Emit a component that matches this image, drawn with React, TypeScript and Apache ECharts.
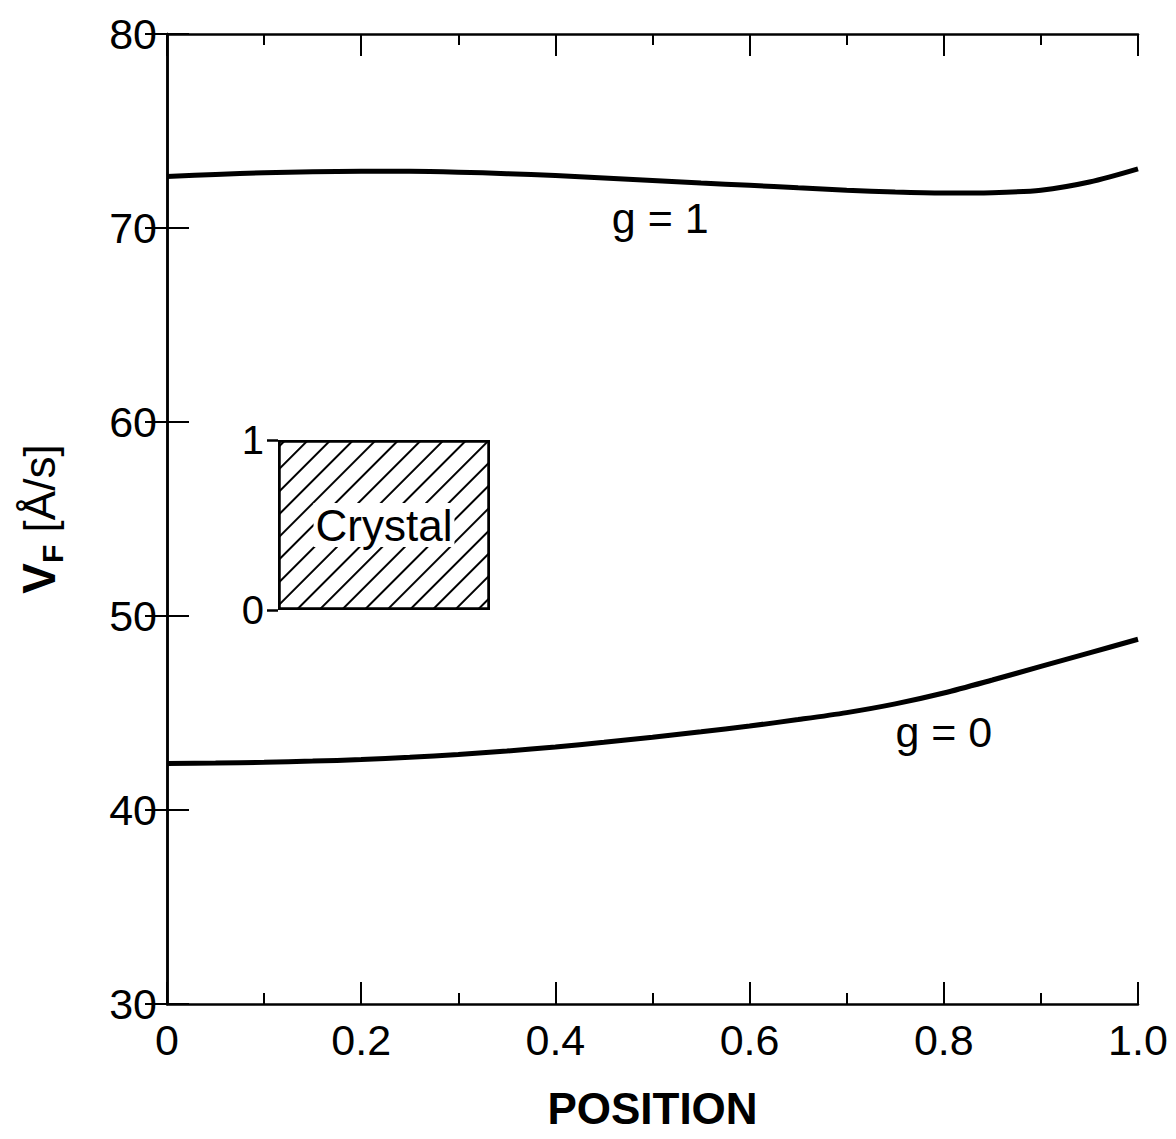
import React, { useEffect, useRef } from "react";
import * as echarts from "echarts";

const positions = [0, 0.05, 0.1, 0.15, 0.2, 0.25, 0.3, 0.35, 0.4, 0.45, 0.5, 0.55, 0.6, 0.65, 0.7, 0.75, 0.8, 0.85, 0.9, 0.95, 1.0];
const g1Values = [72.65, 72.76, 72.85, 72.9, 72.92, 72.92, 72.88, 72.8, 72.7, 72.58, 72.45, 72.32, 72.2, 72.07, 71.95, 71.85, 71.8, 71.82, 71.95, 72.37, 73.05];
const g0Values = [42.4, 42.42, 42.46, 42.52, 42.6, 42.72, 42.86, 43.04, 43.25, 43.49, 43.75, 44.03, 44.33, 44.66, 45.02, 45.47, 46.03, 46.7, 47.4, 48.1, 48.8];
const xTickLabels: Record<string, string> = { "0": "0", "0.2": "0.2", "0.4": "0.4", "0.6": "0.6", "0.8": "0.8", "1": "1.0" };
const curveLabels = [
  { text: "g = 1", coord: [0.508, 70.5] },
  { text: "g = 0", coord: [0.8, 44.0] },
];
const insetCategories = ["Crystal"];
const insetValues = [1];

const FONT = "'Liberation Sans', Arial, Helvetica, sans-serif";

export default function App() {
  const ref = useRef<HTMLDivElement>(null);
  useEffect(() => {
    document.body.style.margin = "0";
    const chart = echarts.init(ref.current!, undefined, { renderer: "svg" });
    const tickStyle = { color: "#000", width: 2 };
    const mainX = (pos: "bottom" | "top", showLabel: boolean) => ({
      type: "value",
      gridIndex: 0,
      position: pos,
      min: 0,
      max: 1,
      interval: 0.2,
      axisLine: { show: true, lineStyle: { color: "#000", width: 2.5 } },
      axisTick: { show: true, inside: true, length: 22, lineStyle: tickStyle },
      minorTick: { show: true, splitNumber: 2, length: 11, lineStyle: tickStyle },
      splitLine: { show: false },
      axisLabel: {
        show: showLabel,
        fontSize: 43,
        color: "#000",
        fontFamily: FONT,
        margin: 14,
        formatter: (v: number) => xTickLabels[String(Math.round(v * 10) / 10)] ?? String(v),
      },
      name: showLabel ? "POSITION" : "",
      nameLocation: "middle",
      nameGap: 82,
      nameTextStyle: { fontSize: 44, fontWeight: "bold", color: "#000", fontFamily: FONT },
    });
    const mainY = (pos: "left" | "right", showLabel: boolean) => ({
      type: "value",
      gridIndex: 0,
      position: pos,
      min: 30,
      max: 80,
      interval: 10,
      axisLine: { show: true, lineStyle: { color: "#000", width: 2.5 } },
      axisTick: { show: true, inside: true, length: 22, lineStyle: tickStyle },
      splitLine: { show: false },
      axisLabel: { show: showLabel, fontSize: 43, color: "#000", fontFamily: FONT, margin: 10 },
      name: showLabel ? "{v|V}{f|F}{u| [Å/s]}" : "",
      nameLocation: "middle",
      nameRotate: 90,
      nameGap: 100,
      nameTextStyle: {
        color: "#000",
        fontFamily: FONT,
        rich: {
          v: { fontSize: 46, fontWeight: "bold", fontFamily: FONT, color: "#000", lineHeight: 56, verticalAlign: "middle" },
          f: { fontSize: 30, fontWeight: "bold", fontFamily: FONT, color: "#000", lineHeight: 56, verticalAlign: "bottom" },
          u: { fontSize: 44, fontFamily: FONT, color: "#000", lineHeight: 56, verticalAlign: "middle" },
        },
      },
    });
    chart.setOption({
      animation: false,
      backgroundColor: "#fff",
      grid: [
        { left: 167, top: 34, width: 971, height: 970 },
        { left: 278, top: 440, width: 212, height: 170 },
      ],
      xAxis: [
        mainX("bottom", true),
        mainX("top", false),
        { type: "category", gridIndex: 1, data: insetCategories, show: false },
      ],
      yAxis: [
        mainY("left", true),
        mainY("right", false),
        {
          type: "value",
          gridIndex: 1,
          min: 0,
          max: 1,
          interval: 1,
          axisLine: { show: false },
          axisTick: { show: true, inside: false, length: 11, lineStyle: { color: "#000", width: 2.5 } },
          splitLine: { show: false },
          axisLabel: { fontSize: 40, color: "#000", fontFamily: FONT, margin: 14 },
        },
      ],
      series: [
        {
          type: "line",
          name: "g = 1",
          xAxisIndex: 0,
          yAxisIndex: 0,
          data: positions.map((p, i) => [p, g1Values[i]]),
          smooth: 0.3,
          showSymbol: false,
          lineStyle: { color: "#000", width: 5 },
          markPoint: {
            symbolSize: 0,
            data: [{ coord: curveLabels[0].coord, value: curveLabels[0].text }],
            label: { show: true, position: "inside", formatter: curveLabels[0].text, fontSize: 43, color: "#000", fontFamily: FONT },
          },
        },
        {
          type: "line",
          name: "g = 0",
          xAxisIndex: 0,
          yAxisIndex: 0,
          data: positions.map((p, i) => [p, g0Values[i]]),
          smooth: 0.3,
          showSymbol: false,
          lineStyle: { color: "#000", width: 5 },
          markPoint: {
            symbolSize: 0,
            data: [{ coord: curveLabels[1].coord, value: curveLabels[1].text }],
            label: { show: true, position: "inside", formatter: curveLabels[1].text, fontSize: 43, color: "#000", fontFamily: FONT },
          },
        },
        {
          type: "bar",
          xAxisIndex: 2,
          yAxisIndex: 2,
          data: insetValues,
          barWidth: "100%",
          itemStyle: {
            color: "#fff",
            borderColor: "#000",
            borderWidth: 2.5,
            decal: {
              symbol: "rect",
              symbolSize: 1,
              color: "#000",
              backgroundColor: "#fff",
              dashArrayX: [1, 0],
              dashArrayY: [1.6, 14],
              rotation: -Math.PI / 4,
            },
          },
          label: {
            show: true,
            position: "inside",
            formatter: "Crystal",
            fontSize: 44,
            color: "#000",
            fontFamily: FONT,
            backgroundColor: "#fff",
            padding: [0, 2],
          },
        },
      ],
    });
    return () => chart.dispose();
  }, []);
  return <div ref={ref} style={{ position: "absolute", left: 0, top: 0, width: 1176, height: 1139 }} />;
}
